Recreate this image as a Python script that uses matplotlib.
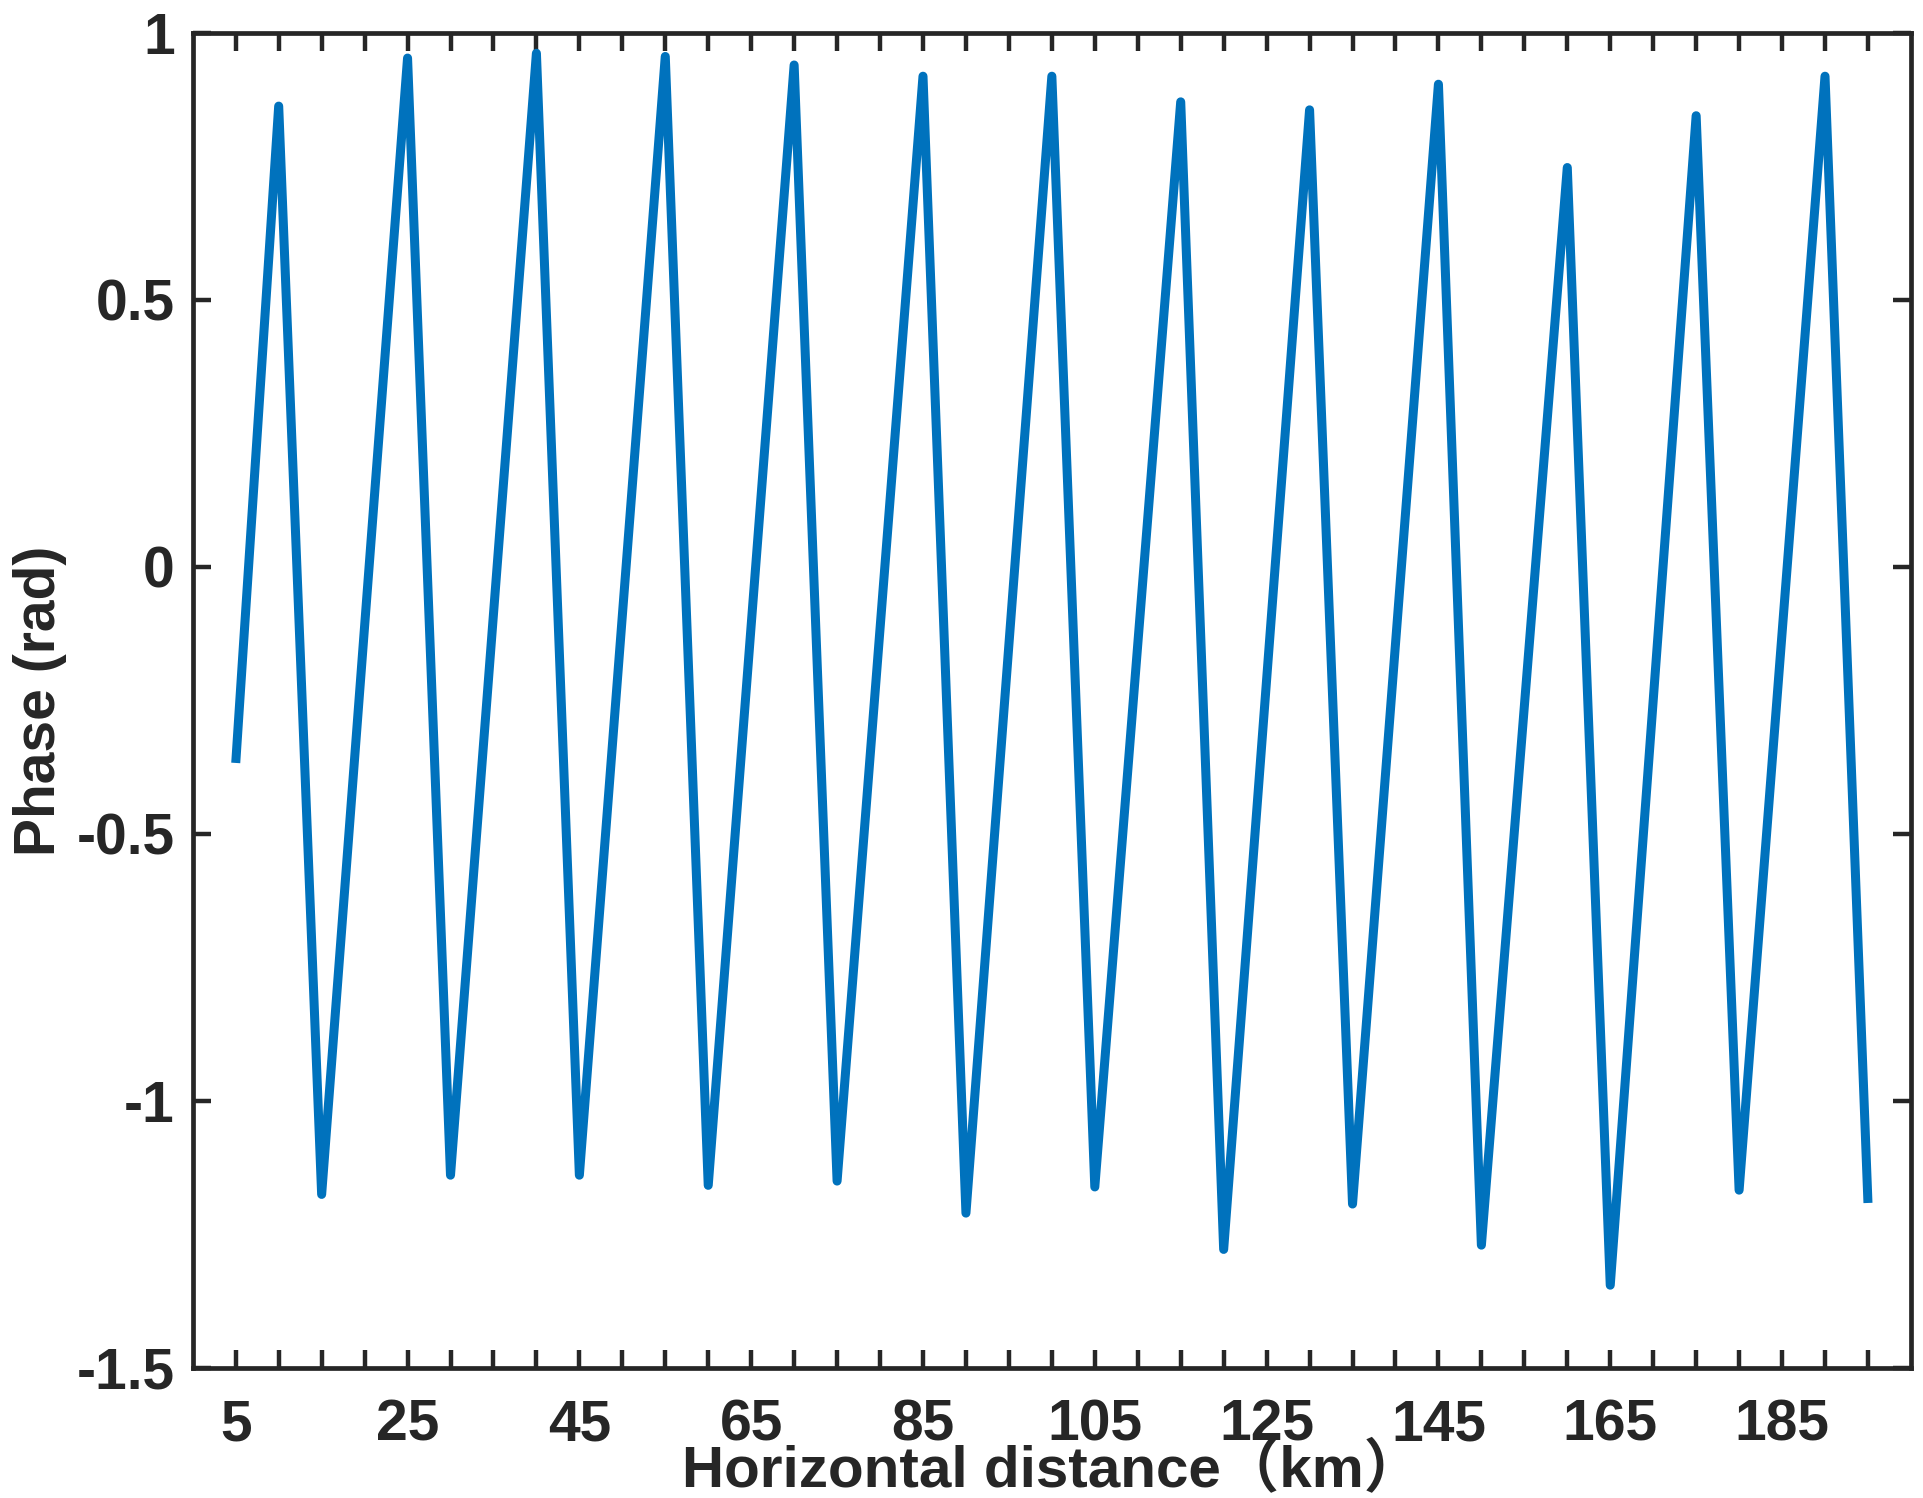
import matplotlib
matplotlib.use("Agg")
import matplotlib.pyplot as plt

# wrapped phase along the profile (peaks and troughs)
distance_km = [5, 10, 15, 25, 30, 40, 45, 55, 60, 70, 75, 85, 90, 100,
               105, 115, 120, 130, 135, 145, 150, 160, 165, 175, 180, 190, 195]
phase_rad = [-0.367, 0.863, -1.175, 0.953, -1.139, 0.962, -1.139, 0.956,
             -1.158, 0.940, -1.150, 0.919, -1.210, 0.919, -1.161, 0.871,
             -1.278, 0.856, -1.193, 0.904, -1.270, 0.748, -1.345, 0.845,
             -1.167, 0.919, -1.191]

x_ticks = list(range(5, 200, 5))
x_ticklabels = [str(t) if (t - 5) % 20 == 0 else "" for t in x_ticks]
y_ticks = [-1.5, -1, -0.5, 0, 0.5, 1]
y_ticklabels = ["-1.5", "-1", "-0.5", "0", "0.5", "1"]

dark = "#262626"
plt.rcParams["font.family"] = ["Liberation Sans", "Noto Sans CJK SC", "DejaVu Sans"]
plt.rcParams["font.weight"] = "bold"

fig = plt.figure(figsize=(19.24, 14.98), dpi=100)
ax = fig.add_axes([0.1002, 0.0868, 0.8930, 0.8912])

ax.plot(distance_km, phase_rad, color="#0072BD", linewidth=6.5,
        solid_joinstyle="round", solid_capstyle="butt")

ax.set_xlim(0, 200)
ax.set_ylim(-1.5, 1)
ax.set_xticks(x_ticks)
ax.set_xticklabels(x_ticklabels)
ax.set_yticks(y_ticks)
ax.set_yticklabels(y_ticklabels)

for s in ax.spines.values():
    s.set_linewidth(3.4)
    s.set_color(dark)
ax.tick_params(direction="in", length=13, width=3.2, color=dark,
               labelcolor=dark, labelsize=41, top=True, right=True)
ax.tick_params(axis="x", pad=22)
ax.tick_params(axis="y", pad=13)

ax.set_xlabel("Horizontal distance（km）", fontsize=42, fontweight="bold", color=dark)
ax.set_ylabel("Phase (rad)", fontsize=41, fontweight="bold", color=dark)
ax.xaxis.label.set_va("baseline")
ax.xaxis.set_label_coords(0.5, -0.0885)
ax.yaxis.label.set_va("baseline")
ax.yaxis.set_label_coords(-0.0801, 0.5)

fig.savefig("out.png", dpi=100)
